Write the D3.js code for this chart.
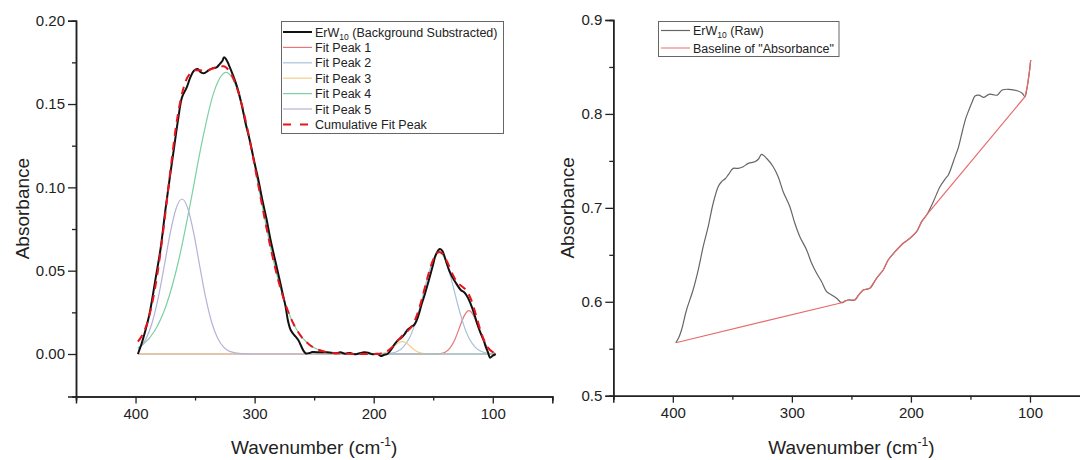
<!DOCTYPE html>
<html><head><meta charset="utf-8">
<script src="https://cdn.jsdelivr.net/npm/d3@7"></script>
<style>
html,body{margin:0;padding:0;background:#fff;}
svg{display:block;font-family:"Liberation Sans",Arial,sans-serif;}
</style></head>
<body><svg id="c" width="1080" height="460"></svg>
<script>
// ---------- Left panel data (background subtracted spectrum) ----------
const bgWn = [398,395,391.6,388,383,379,375,371,368,364,361,357,354,351,348,345,342.6,339,335.6,332,330,327,325.8,324,321.6,318,314.6,311,307.6,304,300.6,297,293.5,290,286.6,283,279.6,277,274,272,269.7,267.5,265.5,263,261.3,259,257,254,251.5,245,240,235.5,232,228,224,220,216,212,208,204.8,201,197,194,191,188.5,185,182.9,180,177.3,174,171.7,169,166.1,164,161.9,159.7,157.7,155,152.1,150,147.9,144.5,142.5,140.9,138.5,136.7,134.5,132.5,129.5,126.9,124,121.3,118.5,115.7,113,110.1,107.5,105.9,104,102.3,100,97.5];
const bgAbs = [0.000,0.006,0.0144,0.025,0.046,0.063,0.086,0.107,0.122,0.142,0.154,0.160,0.166,0.170,0.171,0.169,0.1684,0.170,0.1714,0.172,0.1734,0.176,0.178,0.177,0.1734,0.167,0.160,0.150,0.1385,0.128,0.1164,0.105,0.0924,0.081,0.0684,0.057,0.0464,0.038,0.0284,0.020,0.0144,0.012,0.0104,0.008,0.0054,0.002,0.0004,0.0006,0.0012,0.0010,0.0010,0.0008,0.0004,0.0010,0.0002,0.0006,-0.0002,0.0004,0.0010,0.0008,-0.0002,0.0002,-0.0012,-0.0004,0.000,0.003,0.0054,0.008,0.0094,0.012,0.0144,0.016,0.0174,0.020,0.0244,0.030,0.0344,0.041,0.0484,0.054,0.0594,0.063,0.062,0.0594,0.054,0.0504,0.047,0.0444,0.041,0.0384,0.037,0.0344,0.030,0.0244,0.018,0.0124,0.008,0.0044,0.001,-0.0022,-0.001,0.000];

// Fit peaks
const p1Wn  = [398,300,200,150,144,140,136,132,128,124,120,116,112,108,104,100,98];
const p1Abs = [0,0,0,0,0.0003,0.0011,0.0035,0.0084,0.0158,0.0229,0.026,0.0229,0.0158,0.0084,0.0035,0.0011,0.0006];
const p2Wn  = [398,300,200,185,180,175,170,165,160,155,150,145,140,135,130,125,120,115,110,105,100,98];
const p2Abs = [0,0,0,0.0005,0.0016,0.0043,0.0096,0.0187,0.0313,0.0454,0.0567,0.061,0.0567,0.0454,0.0313,0.0187,0.0096,0.0043,0.0016,0.0005,0.0002,0.0001];
const p3Wn  = [398,300,200,194,191,188,185,182,179,176,173,170,167,164,161,158,150,100,98];
const p3Abs = [0,0,0,0.0003,0.0007,0.0017,0.0032,0.0051,0.0067,0.0074,0.0067,0.0051,0.0032,0.0017,0.0007,0.0003,0,0,0];
const p4Wn  = [398,394,384,374,364,354,344,334,324,314,304,294,284,274,264,254,244,234,224,200,150,100,98];
const p4Abs = [0.0037,0.0056,0.0138,0.0297,0.0555,0.0903,0.1279,0.1576,0.169,0.1576,0.1279,0.0903,0.0555,0.0297,0.0138,0.0056,0.0020,0.0006,0.0002,0,0,0,0];
const p5Wn  = [398,391,386,381,376,371,366,361,356,351,346,341,336,331,326,321,311,300,250,200,150,100,98];
const p5Abs = [0.0028,0.0094,0.0189,0.0335,0.0524,0.0721,0.0872,0.093,0.0872,0.0721,0.0524,0.0335,0.0189,0.0094,0.0041,0.0016,0.0002,0,0,0,0,0,0];
const cumWn  = [398,394,390,386,382,378,374,370,366,362,358,354,350,346,342,338,334,330,326,322,318,314,310,306,302,298,294,290,286,282,278,274,270,266,262,258,254,250,240,230,220,210,200,195,190,185,180,176,172,168,164,160,156,152,148,145,142,138,134,130,126,122,118,114,110,106,102,98];
const cumAbs = [0.0075,0.0118,0.0190,0.0305,0.0464,0.0667,0.0901,0.1143,0.1367,0.1530,0.1635,0.1685,0.1702,0.1702,0.1699,0.1706,0.1716,0.1726,0.1726,0.1704,0.1656,0.1579,0.1476,0.1349,0.1207,0.1056,0.0903,0.0756,0.0619,0.0495,0.0387,0.0297,0.0222,0.0162,0.0116,0.0081,0.0056,0.0037,0.0012,0.0004,0.0001,0,0,0.0002,0.0012,0.0037,0.0079,0.0110,0.0134,0.0167,0.0227,0.0318,0.0427,0.0528,0.0595,0.0612,0.0600,0.0549,0.0482,0.0432,0.0406,0.0380,0.0323,0.0232,0.0135,0.0062,0.0023,0.0006];

// ---------- Right panel data ----------
const rawWn  = [397.5,395,392.7,388.5,383,378.7,374.5,370.3,366.1,361.9,359.1,356,353.5,349.3,345.1,340.9,336.7,331.1,328,325.5,321.3,315.7,311.5,307.3,301.7,297.5,293.3,287.6,283.4,279.2,275,270.8,266.6,262.4,258.2,255,252.7,247.1,244,240.1,234.5,228.9,223.3,219.1,213.4,206.5,200.8,195.2,191,186.8,181.2,175.6,170.8,168.6,163.9,160,156.9,154,151.3,148.5,146.2,142.9,138.7,134.5,131,127.5,123.3,117.6,110.7,106.5,104.2,102.3,100.3,99.4];
const rawAbs = [0.5564,0.562,0.570,0.5912,0.6125,0.6338,0.6587,0.680,0.7049,0.7225,0.7278,0.731,0.735,0.742,0.742,0.7438,0.7474,0.749,0.752,0.757,0.7528,0.7438,0.7332,0.7172,0.7012,0.6836,0.6693,0.6551,0.641,0.6303,0.6214,0.6107,0.6072,0.6037,0.599,0.601,0.6019,0.6019,0.607,0.6125,0.6143,0.625,0.6338,0.6445,0.6533,0.6623,0.6676,0.6746,0.6853,0.6924,0.7065,0.7225,0.7315,0.735,0.751,0.765,0.781,0.795,0.8042,0.813,0.819,0.820,0.8177,0.8209,0.8205,0.820,0.8255,0.8262,0.8247,0.822,0.8183,0.829,0.8467,0.8574];
const baseWn  = [397.5,258.2,255,252.7,247.1,244,240.1,234.5,228.9,223.3,219.1,213.4,206.5,200.8,195.2,191,186.8,104.2,102.3,100.3,99.4];
const baseAbs = [0.5564,0.599,0.601,0.6019,0.6019,0.607,0.6125,0.6143,0.625,0.6338,0.6445,0.6533,0.6623,0.6676,0.6746,0.6853,0.6924,0.8183,0.829,0.8467,0.8574];

// ticks
const xMajor = [400,300,200,100];
const xMinor = [450,350,250,150,50];
const yLMajor = [0,0.05,0.10,0.15,0.20];
const yLMinor = [0.025,0.075,0.125,0.175];
const yRMajor = [0.5,0.6,0.7,0.8,0.9];
const yRMinor = [0.55,0.65,0.75,0.85];

const leftLegend = [
  {label:"ErW", sub:"10", rest:" (Background Substracted)", color:"#111", w:2, dash:null},
  {label:"Fit Peak 1", color:"#e87878", w:1.2, dash:null},
  {label:"Fit Peak 2", color:"#a8c0dc", w:1.2, dash:null},
  {label:"Fit Peak 3", color:"#f5cf8c", w:1.2, dash:null},
  {label:"Fit Peak 4", color:"#7ccfa4", w:1.2, dash:null},
  {label:"Fit Peak 5", color:"#b4b2d8", w:1.2, dash:null},
  {label:"Cumulative Fit Peak", color:"#e8141c", w:2, dash:"8,9"}
];
const rightLegend = [
  {label:"ErW", sub:"10", rest:" (Raw)", color:"#666", w:1.2},
  {label:"Baseline of \"Absorbance\"", color:"#ef8585", w:1.2}
];

const svg = d3.select("#c");
const AX = "#222";

function drawAxes(g, x, y, yMaj, yMin, fmt, titleX) {
  const x0 = x.range()[0], y0 = y.range()[0];
  g.append("g").attr("transform", `translate(0,${y0})`)
    .call(d3.axisBottom(x).tickValues(xMajor).tickSize(7).tickPadding(5).tickFormat(d3.format("d")));
  g.append("g").attr("transform", `translate(0,${y0})`)
    .call(d3.axisBottom(x).tickValues(xMinor).tickSize(4).tickFormat(""));
  g.append("g").attr("transform", `translate(${x0},0)`)
    .call(d3.axisLeft(y).tickValues(yMaj).tickSize(8).tickPadding(3).tickFormat(d3.format(fmt)));
  g.append("g").attr("transform", `translate(${x0},0)`)
    .call(d3.axisLeft(y).tickValues(yMin).tickSize(4).tickFormat(""));
  g.selectAll(".domain").attr("stroke", AX).attr("stroke-width", 1.5);
  g.selectAll(".tick line").attr("stroke", AX).attr("stroke-width", 1.3);
  g.selectAll(".tick text").attr("fill", "#222").style("font-size", "15px").style("font-family", "Liberation Sans, Arial, sans-serif");
  const t = g.append("text").attr("x", (x.range()[0]+x.range()[1])/2).attr("y", 454)
    .attr("text-anchor", "middle").style("font-size", "19px").attr("fill", "#222");
  t.append("tspan").text("Wavenumber (cm");
  t.append("tspan").text("-1").style("font-size", "12px").attr("dy", -8);
  t.append("tspan").text(")").attr("dy", 8);
  g.append("text").attr("transform", `translate(${titleX},${(y.range()[0]+y.range()[1])/2}) rotate(-90)`)
    .attr("text-anchor", "middle").attr("dy", "0.35em").style("font-size", "19px").attr("fill", "#222")
    .text("Absorbance");
}

function line(x, y, curve) {
  return d3.line().x(d => x(d[0])).y(d => y(d[1])).curve(curve);
}
function zip(a, b) { return a.map((v, i) => [v, b[i]]); }

// ---------- Left panel ----------
const xL = d3.scaleLinear().domain([450, 50]).range([76, 552.3]);
const yL = d3.scaleLinear().domain([-0.0255, 0.2]).range([396.5, 20.7]);
const gL = svg.append("g");

const peaks = [[p1Wn,p1Abs],[p2Wn,p2Abs],[p3Wn,p3Abs],[p4Wn,p4Abs],[p5Wn,p5Abs]];
peaks.forEach((p, i) => {
  gL.append("path").datum(zip(p[0], p[1]))
    .attr("d", line(xL, yL, d3.curveMonotoneX))
    .attr("fill", "none").attr("stroke", leftLegend[i+1].color).attr("stroke-width", 1.2);
});
gL.append("path").datum(zip(bgWn, bgAbs))
  .attr("d", line(xL, yL, d3.curveCatmullRom.alpha(0.5)))
  .attr("fill", "none").attr("stroke", "#111").attr("stroke-width", 2);
gL.append("path").datum(zip(cumWn, cumAbs))
  .attr("d", line(xL, yL, d3.curveMonotoneX))
  .attr("fill", "none").attr("stroke", "#e8141c").attr("stroke-width", 2).attr("stroke-dasharray", "8,6");

drawAxes(gL, xL, yL, yLMajor, yLMinor, ".2f", 22);

function legend(g, items, bx, by, bw, bh, ly0, step, lx0, lx1, tx) {
  g.append("rect").attr("x", bx).attr("y", by).attr("width", bw).attr("height", bh)
    .attr("fill", "#fff").attr("stroke", "#666").attr("stroke-width", 1);
  items.forEach((it, i) => {
    const yy = ly0 + i * step;
    g.append("line").attr("x1", lx0).attr("x2", lx1).attr("y1", yy).attr("y2", yy)
      .attr("stroke", it.color).attr("stroke-width", it.w).attr("stroke-dasharray", it.dash || null);
    const t = g.append("text").attr("x", tx).attr("y", yy + 4.5).style("font-size", "12.5px").attr("fill", "#222");
    t.append("tspan").text(it.label);
    if (it.sub) {
      t.append("tspan").text(it.sub).style("font-size", "8.5px").attr("dy", 3);
      t.append("tspan").text(it.rest).attr("dy", -3);
    }
  });
}
legend(gL, leftLegend, 281.5, 21.5, 222, 112, 32, 15.4, 283, 312, 315);

// ---------- Right panel ----------
const xR = d3.scaleLinear().domain([450, 50]).range([613.3, 1089.5]);
const yR = d3.scaleLinear().domain([0.5, 0.9]).range([395.7, 20]);
const gR = svg.append("g");
gR.append("path").datum(zip(rawWn, rawAbs))
  .attr("d", line(xR, yR, d3.curveCatmullRom.alpha(0.5)))
  .attr("fill", "none").attr("stroke", "#666").attr("stroke-width", 1.2);
gR.append("path").datum(zip(baseWn, baseAbs))
  .attr("d", line(xR, yR, d3.curveLinear))
  .attr("fill", "none").attr("stroke", "#e86a6a").attr("stroke-width", 1.2);
drawAxes(gR, xR, yR, yRMajor, yRMinor, ".1f", 567);
legend(gR, rightLegend, 658.5, 21.5, 180.5, 35, 30.5, 17.5, 661, 690, 693);
</script></body></html>
